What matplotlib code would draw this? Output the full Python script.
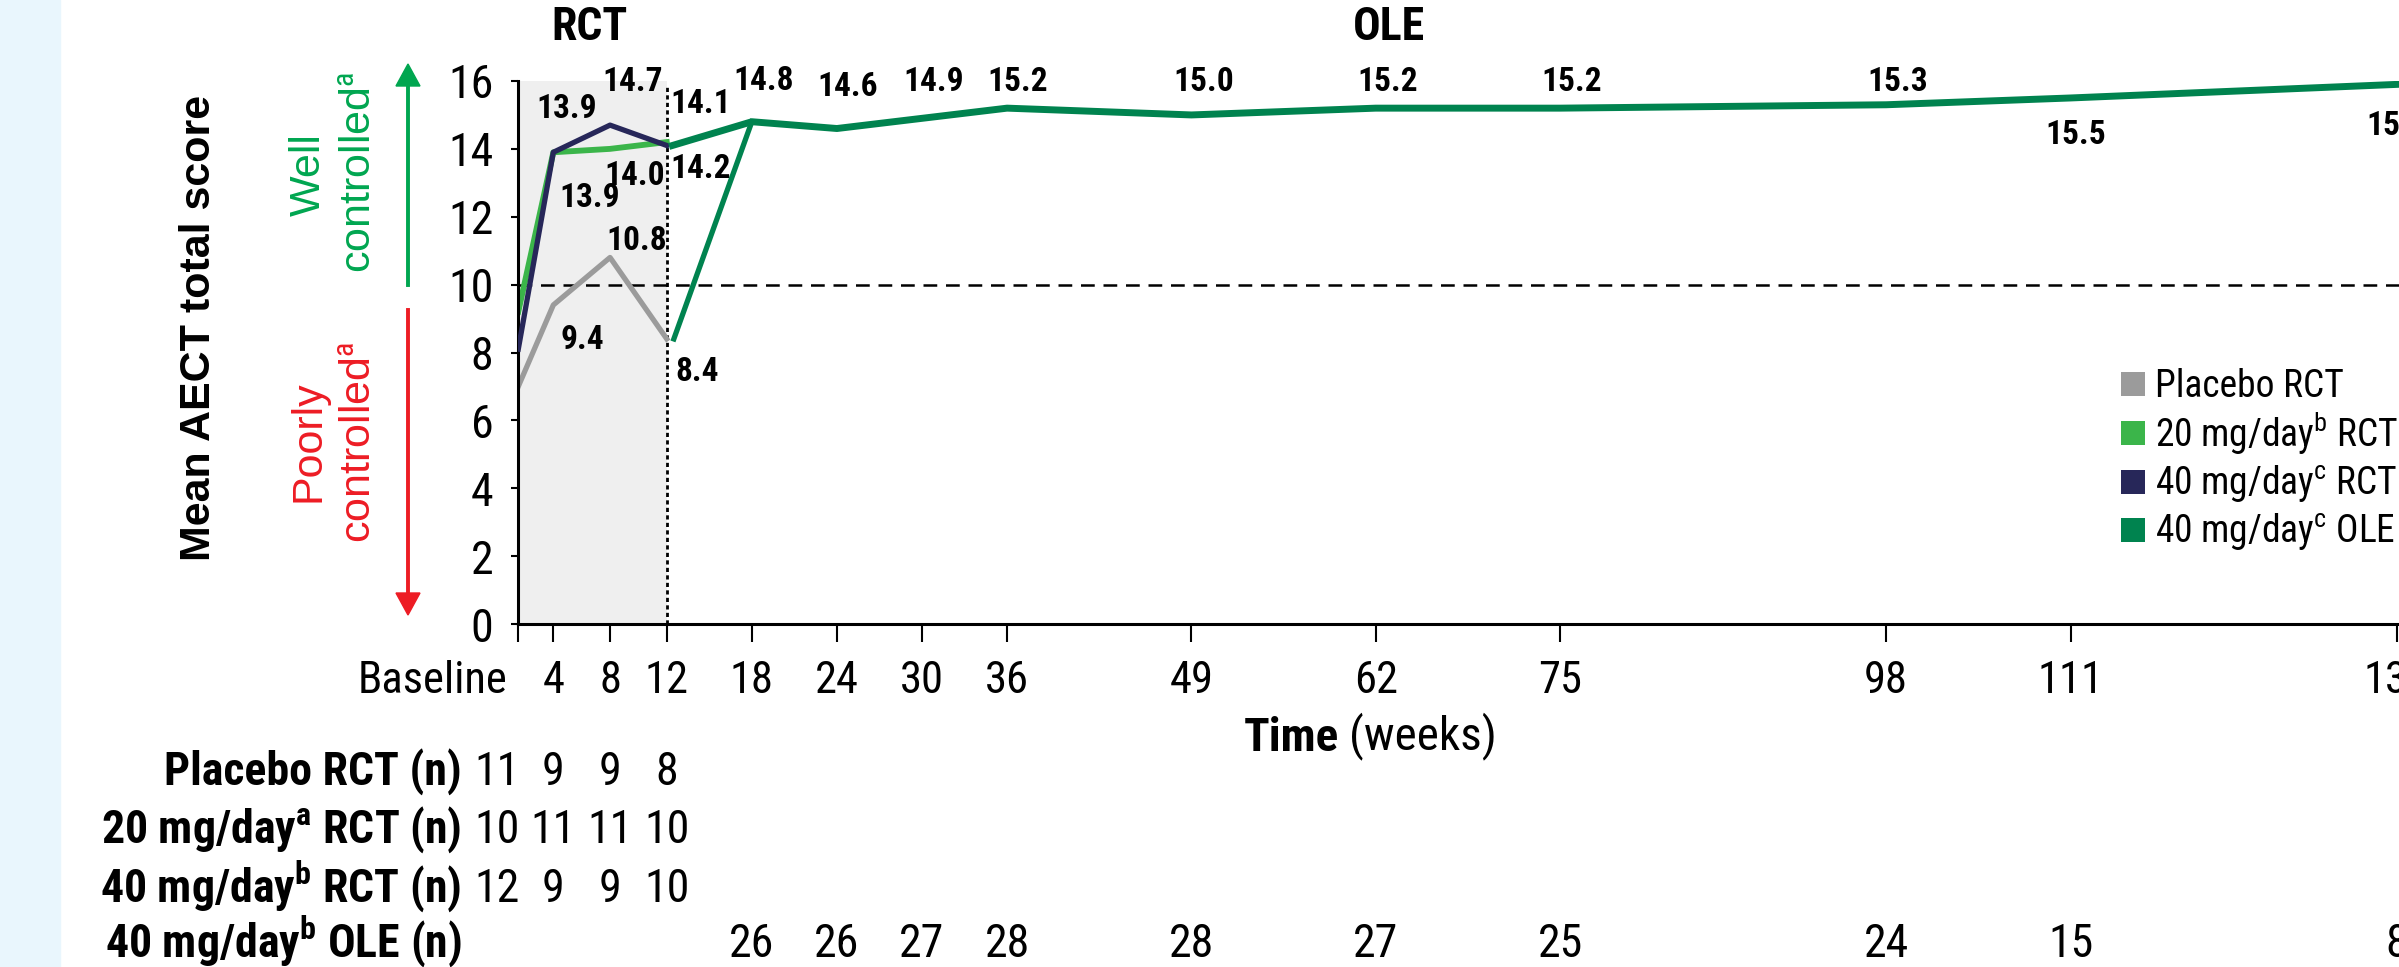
import matplotlib
matplotlib.use("Agg")
import matplotlib.pyplot as plt
from matplotlib import font_manager
from matplotlib.patches import Rectangle
from matplotlib.transforms import ScaledTranslation, blended_transform_factory

W, H, DPI = 2399, 967, 100

# data
rct_labels = ["Baseline", "4", "8", "12"]
rct_weeks = [0, 4, 8, 12]
ole_weeks = [18, 24, 30, 36, 49, 62, 75, 98, 111, 134]

placebo = [7.0, 9.4, 10.8, 8.4]
mg20 = [9.2, 13.9, 14.0, 14.2]
mg40 = [8.1, 13.9, 14.7, 14.1]
ole = [14.8, 14.6, 14.9, 15.2, 15.0, 15.2, 15.2, 15.3, 15.5, 15.9]

n_placebo = [11, 9, 9, 8]
n_mg20 = [10, 11, 11, 10]
n_mg40 = [12, 9, 9, 10]
n_ole = [26, 26, 27, 28, 28, 27, 25, 24, 15, 8]

legend_names = ["Placebo RCT", r"20 mg/day$^{\mathrm{b}}$ RCT",
                r"40 mg/day$^{\mathrm{c}}$ RCT", r"40 mg/day$^{\mathrm{c}}$ OLE"]
row_names = ["Placebo RCT (n)", r"20 mg/day$^{\mathbf{a}}$ RCT (n)",
             r"40 mg/day$^{\mathbf{b}}$ RCT (n)", r"40 mg/day$^{\mathbf{b}}$ OLE (n)"]

GRAY, LGREEN, NAVY, DGREEN = "#9b9b9b", "#3bb54a", "#272759", "#00834f"
TXT_GREEN, RED = "#00a650", "#ed1c24"

# value-label offsets in pixels (dx, dy up) from each point
off_placebo = [None, (29, -32), (27, 19), (30, -30)]
off_mg20 = [None, (36, -43), (25, -24), (34, -24)]
off_mg40 = [None, (13, 46), (23, 46), (34, 44)]
off_ole = [(12, 43), (11, 44), (12, 39), (11, 29), (12, 36), (12, 29),
           (12, 29), (12, 26), (5, -34), (0, -39)]

# fonts: prefer a condensed face if one is installed
names = {f.name for f in font_manager.fontManager.ttflist}
COND = next((n for n in ["Roboto Condensed", "Liberation Sans Narrow", "Roboto"] if n in names), "DejaVu Sans")
ARIAL = "Liberation Sans" if "Liberation Sans" in names else "DejaVu Sans"
plt.rcParams["font.family"] = [COND, "DejaVu Sans"]
plt.rcParams["mathtext.fontset"] = "custom"
plt.rcParams["mathtext.rm"] = COND
plt.rcParams["mathtext.bf"] = COND + ":bold"


def fx(px):
    return px / W


def fy(py):
    return 1 - py / H


BASE_X = 1.53      # where "Baseline" sits on the week axis
OLE_START = 12.4   # OLE lines start just right of week 12

fig = plt.figure(figsize=(W / DPI, H / DPI), dpi=DPI)
fig.add_artist(Rectangle((0, 0), fx(60), 1, transform=fig.transFigure,
                         color="#e9f6fd", zorder=0))

ax = fig.add_axes([fx(518.3), fy(624), fx(2425 - 518.3), (624 - 81) / H])
ax.set_xlim(BASE_X, 136)
ax.set_ylim(0, 16)
ax.set_facecolor("none")

ax.axvspan(BASE_X, 12, color="#efefef", zorder=0, lw=0)
ax.plot([12, 12], [0, 15.9], color="black", lw=2, ls=(0, (1.5, 1.2)), zorder=1)
ax.axhline(10, color="black", lw=1.8, ls=(0, (5.5, 3.5)), zorder=1)

x_rct = [BASE_X] + rct_weeks[1:]
ax.plot(x_rct, placebo, color=GRAY, lw=3.8, zorder=2)
ax.plot(x_rct, mg20, color=LGREEN, lw=4.2, zorder=2)
ax.plot(x_rct, mg40, color=NAVY, lw=3.8, zorder=3)
ax.plot([OLE_START + 0.1, ole_weeks[0]], [placebo[-1], ole[0]], color=DGREEN, lw=3.8, zorder=3)
ax.plot([OLE_START] + ole_weeks, [mg40[-1]] + ole, color=DGREEN, lw=5, zorder=4)

DIGIT_H = 23.5


def value_labels(xs, vals, offs):
    for x, v, o in zip(xs, vals, offs):
        if o is None:
            continue
        ax.annotate(f"{v:.1f}", xy=(x, v), xytext=(o[0], o[1] - DIGIT_H / 2),
                    textcoords="offset pixels", ha="center", va="baseline",
                    fontsize=24, fontweight="bold", annotation_clip=False, zorder=5)


value_labels(x_rct, placebo, off_placebo)
value_labels(x_rct, mg20, off_mg20)
value_labels(x_rct, mg40, off_mg40)
value_labels(ole_weeks, ole, off_ole)

# axes styling
for s in ["top", "right"]:
    ax.spines[s].set_visible(False)
for s in ["left", "bottom"]:
    ax.spines[s].set_linewidth(2.2)
ax.set_yticks(range(0, 17, 2))
ax.set_xticks(x_rct + ole_weeks, labels=rct_labels + [str(w) for w in ole_weeks])
ax.tick_params(axis="x", length=13, width=1.5, pad=13, labelsize=32)
ax.tick_params(axis="y", length=5, width=1.5, pad=13, labelsize=33)
base_lbl = ax.get_xticklabels()[0]
base_lbl.set_horizontalalignment("right")
base_lbl.set_transform(base_lbl.get_transform() + ScaledTranslation(-10.7 / DPI, 0, fig.dpi_scale_trans))

# phase headers
fig.text(fx(590), fy(40), "RCT", ha="center", va="baseline", fontsize=33, fontweight="bold")
fig.text(fx(1389), fy(40), "OLE", ha="center", va="baseline", fontsize=33, fontweight="bold")

# y axis title and control zones
fig.text(fx(199), fy(328), "Mean AECT total score", rotation=90, ha="center", va="center",
         fontsize=31, fontweight="bold", family=ARIAL)
fig.text(fx(309), fy(175), "Well", rotation=90, ha="center", va="center",
         fontsize=31, color=TXT_GREEN, family=ARIAL)
fig.text(fx(360), fy(172), r"controlled$^{\mathrm{a}}$", rotation=90, ha="center", va="center",
         fontsize=31, color=TXT_GREEN, family=ARIAL)
fig.text(fx(309), fy(441), "Poorly", rotation=90, ha="center", va="center",
         fontsize=31, color=RED, family=ARIAL)
fig.text(fx(360), fy(442), r"controlled$^{\mathrm{a}}$", rotation=90, ha="center", va="center",
         fontsize=31, color=RED, family=ARIAL)
fig.add_artist(plt.Line2D([fx(408), fx(408)], [fy(285), fy(86)], transform=fig.transFigure,
                          color=TXT_GREEN, lw=2.8))
fig.add_artist(plt.Polygon([[fx(396), fy(86)], [fx(420), fy(86)], [fx(408), fy(64)]],
                           transform=fig.transFigure, color=TXT_GREEN))
fig.add_artist(plt.Line2D([fx(408), fx(408)], [fy(310), fy(593)], transform=fig.transFigure,
                          color=RED, lw=2.8))
fig.add_artist(plt.Polygon([[fx(396), fy(593)], [fx(420), fy(593)], [fx(408), fy(615)]],
                           transform=fig.transFigure, color=RED))

# x axis title
t1 = fig.text(fx(1244), fy(751), "Time", ha="left", va="baseline", fontsize=34, fontweight="bold")
ax.annotate("(weeks)", xy=(1, 0), xycoords=t1, xytext=(10, 0), textcoords="offset pixels",
            ha="left", va="bottom", fontsize=34)

# legend (square swatches)
leg_colors = [GRAY, LGREEN, NAVY, DGREEN]
leg_rows = [384, 433, 482, 530]
for name, col, yc in zip(legend_names, leg_colors, leg_rows):
    fig.add_artist(Rectangle((fx(2121), fy(yc + 12)), 24 / W, 24 / H,
                             transform=fig.transFigure, color=col, lw=0))
    fig.text(fx(2155), fy(yc + 13), name, ha="left", va="baseline", fontsize=27)

# n table
tbl = blended_transform_factory(ax.transData, fig.transFigure)
row_base = [785, 843, 901.7, 956.7]
for name, yb in zip(row_names, row_base):
    fig.text(fx(461.7), fy(yb), name, ha="right", va="baseline", fontsize=33, fontweight="bold")
for counts, yb in zip([n_placebo, n_mg20, n_mg40], row_base[:3]):
    for w, c in zip(rct_weeks, counts):
        ax.text(w, fy(yb), str(c), transform=tbl, ha="center", va="baseline", fontsize=33, clip_on=False)
for w, c in zip(ole_weeks, n_ole):
    ax.text(w, fy(row_base[3]), str(c), transform=tbl, ha="center", va="baseline", fontsize=33, clip_on=False)

fig.savefig("out.png", dpi=DPI)
